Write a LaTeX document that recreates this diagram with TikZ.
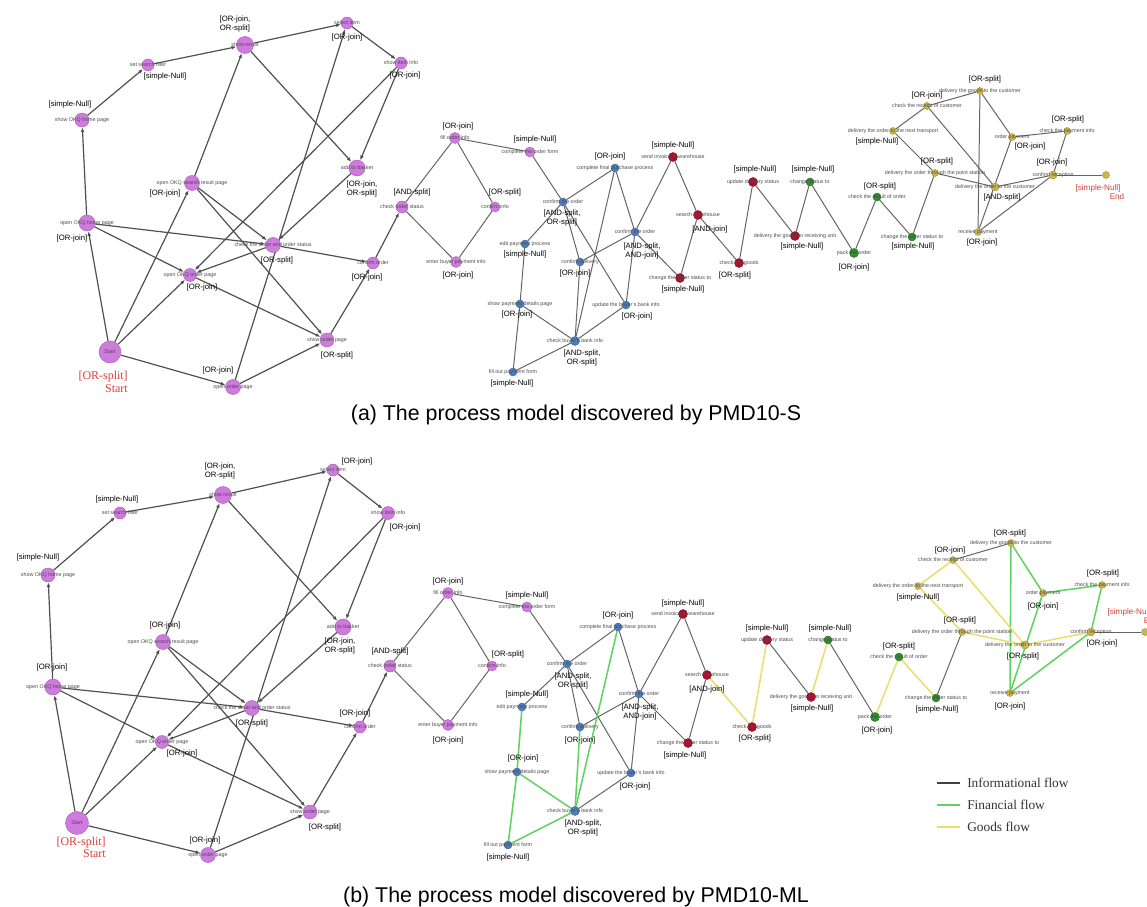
\documentclass[tikz,border=0pt]{standalone}
\usepackage{fontspec}
\setmainfont{Liberation Sans}
\newfontfamily\serifface{Liberation Serif}
\usetikzlibrary{arrows.meta}
\pgfdeclarelayer{bgzero}
\pgfdeclarelayer{bg}
\pgfsetlayers{bgzero,bg,main}
\definecolor{cpu}{RGB}{206,122,222}
\definecolor{cbl}{RGB}{78,124,192}
\definecolor{crd}{RGB}{168,18,46}
\definecolor{cgn}{RGB}{46,142,48}
\definecolor{cyl}{RGB}{202,182,76}
\definecolor{cgr}{RGB}{100,100,100}
\definecolor{cge}{RGB}{96,212,96}
\definecolor{cye}{RGB}{236,222,110}
\definecolor{cred}{RGB}{222,60,60}
\tikzset{
  nbase/.style={circle, inner sep=0pt, line width=0.3pt, fill=#1, draw=#1!80!black},
  npu/.style={nbase=cpu},
  nbl/.style={nbase=cbl},
  nrd/.style={nbase=crd},
  ngr/.style={nbase=cgn},
  nyl/.style={nbase=cyl},
  ds/.style={font=\fontsize{3.8}{4.2}\selectfont, text=black!70, inner sep=0pt},
  tg/.style={font=\fontsize{5.5}{6.2}\selectfont, align=center, inner sep=0pt, text=black},
  st/.style={font=\serifface\fontsize{8.5}{9}\selectfont, text=cred, inner sep=0pt},
  et/.style={font=\fontsize{5.8}{6.2}\selectfont, text=cred, inner sep=0pt},
  ed/.style={draw=cgr, line width=0.7pt},
  eda/.style={draw=cgr!80!black, line width=0.85pt, -{Latex[length=3.5pt,width=2.6pt]}},
  edg/.style={draw=cge, line width=1.1pt},
  edy/.style={draw=cye, line width=1.1pt},
  captxt/.style={font=\fontsize{15.2}{18}\selectfont, inner sep=0pt},
  lgt/.style={font=\serifface\fontsize{9.5}{11}\selectfont, inner sep=0pt, text=black!80},
}
\newcommand\nd[8]{%
  \node[#4, minimum size=#5mm] (#1) at (#2,#3) {};
  \node[ds] (#1d) at (#2,#3) {#6};
  \node[tg] (#1t) at #7 {#8};}
\begin{document}
\begin{tikzpicture}[x=0.025cm, y=-0.025cm]
\begin{pgfonlayer}{bgzero}
\fill[white] (0,0) rectangle (1147,907);
\end{pgfonlayer}
\useasboundingbox (0,0) rectangle (1147,907);

% ================= panel (a) =================
\node[npu, minimum size=5.5mm] (aS) at (110,352) {};
\node[ds] (aSd) at (aS) {Start};
\node[st, anchor=east] (aSt1) at (128,377) {[OR-split]};
\node[st, anchor=east] (aSt2) at (128,389) {Start};
\nd{aA2}{87}{223}{npu}{4}{open OKQ home page}{(72,238)}{[OR-join]}
\nd{aA3}{82}{120}{npu}{3.5}{show OKQ home page}{(70,105)}{[simple-Null]}
\nd{aA4}{148}{65}{npu}{3}{set search filter}{(165,77)}{[simple-Null]}
\nd{aA5}{245}{45}{npu}{4.25}{show result}{(235,24)}{[OR-join,\\OR-split]}
\nd{aA6}{347}{23}{npu}{3}{select item}{(347,38)}{[OR-join]}
\nd{aA7}{401}{63}{npu}{3}{show item info}{(405,76)}{[OR-join]}
\nd{aA8}{357}{168}{npu}{4}{add to basket}{(362,189)}{[OR-join,\\OR-split]}
\nd{aA9}{192}{183}{npu}{3.75}{open OKQ search result page}{(165,194)}{[OR-join]}
\nd{aA10}{273}{245}{npu}{3.75}{check the order and order status}{(277,260)}{[OR-split]}
\nd{aA11}{190}{275}{npu}{3.25}{open OKQ order page}{(202,288)}{[OR-join]}
\nd{aA12}{373}{263}{npu}{3}{confirm order}{(367,278)}{[OR-join]}
\nd{aA13}{327}{340}{npu}{3.5}{show order page}{(337,355)}{[OR-split]}
\nd{aA14}{233}{387}{npu}{3.75}{open order page}{(218,370)}{[OR-join]}
\nd{aA15}{402}{207}{npu}{3}{check order status}{(412,193)}{[AND-split]}
\nd{aM1}{455}{138}{npu}{2.75}{fill order info}{(458,127)}{[OR-join]}
\nd{aM2}{530}{152}{npu}{2.5}{complete the order form}{(535,140)}{[simple-Null]}
\nd{aM3}{495}{207}{npu}{2.5}{confirm info}{(505,193)}{[OR-split]}
\nd{aM4}{456}{262}{npu}{2.75}{enter buyer payment info}{(458,275)}{[OR-join]}
\nd{aB1}{563}{202}{nbl}{2}{confirm the order}{(562,218)}{[AND-split,\\OR-split]}
\nd{aB2}{615}{168}{nbl}{2}{complete final purchase process}{(610,157)}{[OR-join]}
\nd{aB3}{525}{244}{nbl}{2}{edit payment process}{(525,255)}{[simple-Null]}
\nd{aB4}{580}{262}{nbl}{2}{confirm delivery}{(575,274)}{[OR-join]}
\nd{aB5}{635}{232}{nbl}{2}{confirm the order}{(642,251)}{[AND-split,\\AND-join]}
\nd{aB6}{520}{304}{nbl}{2}{show payment details page}{(517,315)}{[OR-join]}
\nd{aB7}{626}{305}{nbl}{2}{update the buyer's bank info}{(637,317)}{[OR-join]}
\nd{aB8}{575}{341}{nbl}{2.25}{check buyer's bank info}{(582,358)}{[AND-split,\\OR-split]}
\nd{aB9}{513}{372}{nbl}{2}{fill out payment form}{(512,383)}{[simple-Null]}
\nd{aR1}{673}{157}{nrd}{2.25}{send invoice to warehouse}{(673,146)}{[simple-Null]}
\nd{aR2}{698}{215}{nrd}{2.25}{search warehouse}{(710,229)}{[AND-join]}
\nd{aR3}{739}{263}{nrd}{2.25}{check the goods}{(735,275)}{[OR-split]}
\nd{aR4}{680}{278}{nrd}{2.25}{change the order status to}{(683,289)}{[simple-Null]}
\nd{aR5}{753}{182}{nrd}{2.25}{update delivery status}{(755,170)}{[simple-Null]}
\nd{aR6}{795}{236}{nrd}{2.25}{delivery the goods to receiving unit}{(802,247)}{[simple-Null]}
\nd{aG1}{810}{182}{ngr}{2}{change status to}{(813,170)}{[simple-Null]}
\nd{aG2}{854}{253}{ngr}{2.25}{pack the order}{(854,267)}{[OR-join]}
\nd{aG3}{877}{197}{ngr}{2}{check the result of order}{(880,187)}{[OR-split]}
\nd{aG4}{912}{237}{ngr}{2}{change the order status to}{(913,247)}{[simple-Null]}
\nd{aY1}{935}{173}{nyl}{1.75}{delivery the order through the point station}{(937,162)}{[OR-split]}
\nd{aY2}{893}{131}{nyl}{1.75}{delivery the order to the next transport}{(877,142)}{[simple-Null]}
\nd{aY3}{927}{106}{nyl}{1.75}{check the receipt of customer}{(927,96)}{[OR-join]}
\nd{aY4}{980}{91}{nyl}{1.75}{delivery the goods to the customer}{(985,80)}{[OR-split]}
\nd{aY5}{1012}{137}{nyl}{1.75}{order payment}{(1030,147)}{[OR-join]}
\nd{aY6}{1067}{131}{nyl}{1.75}{check the payment info}{(1068,120)}{[OR-split]}
\nd{aY7}{995}{187}{nyl}{2}{delivery the order to the customer}{(1002,198)}{[AND-split]}
\nd{aY8}{1053}{175}{nyl}{2}{confirm reception}{(1052,163)}{[OR-join]}
\nd{aY9}{1106}{175}{nyl}{1.75}{}{(1106,175)}{}
\node[et] (aY9t1) at (1098,188) {[simple-Null]};
\node[et] (aY9t2) at (1117,197) {End};
\nd{aY10}{978}{232}{nyl}{1.75}{receive payment}{(982,243)}{[OR-join]}

\begin{pgfonlayer}{bg}
\foreach \s/\t in {aS/aA2, aS/aA9, aS/aA11, aS/aA14, aA2/aA3, aA3/aA4, aA4/aA5, aA9/aA5,
  aA5/aA6, aA6/aA7, aA7/aA8, aA5/aA8, aA8/aA10, aA2/aA10, aA2/aA11, aA11/aA13, aA9/aA10,
  aA9/aA13, aA10/aA11, aA10/aA12, aA12/aA15, aA13/aA12, aA14/aA13, aA7/aA11, aA14/aA6}
  \draw[eda] (\s) -- (\t);
\foreach \s/\t in {aA15/aM1, aA15/aM4, aM1/aM3, aM3/aM4, aM1/aM2, aM2/aB1, aB1/aB2, aB1/aB3,
  aB1/aB4, aB1/aB7, aB2/aB5, aB2/aB8, aB4/aB8, aB5/aB4, aB5/aB7, aB3/aB6, aB6/aB9, aB6/aB8,
  aB9/aB8, aB7/aB8, aB5/aR1, aB5/aR4, aR1/aR2, aR2/aR4, aR2/aR3, aR3/aR5, aR5/aR6, aR6/aG1,
  aG1/aG2, aG2/aG3, aG3/aG4, aG4/aY1, aY1/aY7, aY2/aY1, aY2/aY3, aY3/aY7, aY3/aY4, aY4/aY10,
  aY4/aY5, aY5/aY6, aY5/aY10, aY6/aY8, aY7/aY8, aY10/aY8, aY8/aY9}
  \draw[ed] (\s) -- (\t);
\end{pgfonlayer}

\node[captxt, anchor=base] (capa) at (576,420) {(a) The process model discovered by PMD10-S};

% ================= panel (b) =================
\node[npu, minimum size=5.75mm] (bS) at (77,823) {};
\node[ds] (bSd) at (bS) {Start};
\node[st, anchor=east] (bSt1) at (106,843) {[OR-split]};
\node[st, anchor=east] (bSt2) at (106,854) {Start};
\nd{bA2}{53}{687}{npu}{4}{open OKQ home page}{(52,667)}{[OR-join]}
\nd{bA3}{48}{575}{npu}{3.5}{show OKQ home page}{(38,557)}{[simple-Null]}
\nd{bA4}{120}{513}{npu}{3}{set search filter}{(117,499)}{[simple-Null]}
\nd{bA5}{223}{495}{npu}{4.25}{show result}{(220,471)}{[OR-join,\\OR-split]}
\nd{bA6}{333}{470}{npu}{3}{select item}{(357,461)}{[OR-join]}
\nd{bA7}{388}{513}{npu}{3.25}{show item info}{(405,527)}{[OR-join]}
\nd{bA8}{343}{627}{npu}{4}{add to basket}{(340,646)}{[OR-join,\\OR-split]}
\nd{bA9}{163}{642}{npu}{3.75}{open OKQ search result page}{(165,625)}{[OR-join]}
\nd{bA10}{252}{708}{npu}{3.75}{check the order and order status}{(252,723)}{[OR-split]}
\nd{bA11}{162}{742}{npu}{3.25}{open OKQ order page}{(182,753)}{[OR-join]}
\nd{bA12}{360}{727}{npu}{3}{confirm order}{(355,713)}{[OR-join]}
\nd{bA13}{310}{812}{npu}{3.5}{show order page}{(325,827)}{[OR-split]}
\nd{bA14}{208}{855}{npu}{3.75}{open order page}{(205,840)}{[OR-join]}
\nd{bA15}{390}{666}{npu}{3}{check order status}{(390,651)}{[AND-split]}
\nd{bM1}{448}{593}{npu}{2.75}{fill order info}{(448,581)}{[OR-join]}
\nd{bM2}{527}{607}{npu}{2.5}{complete the order form}{(527,595)}{[simple-Null]}
\nd{bM3}{492}{666}{npu}{2.5}{confirm info}{(508,654)}{[OR-split]}
\nd{bM4}{448}{725}{npu}{2.75}{enter buyer payment info}{(448,740)}{[OR-join]}
\nd{bB1}{567}{664}{nbl}{2}{confirm the order}{(573,681)}{[AND-split,\\OR-split]}
\nd{bB2}{618}{627}{nbl}{2}{complete final purchase process}{(618,615)}{[OR-join]}
\nd{bB3}{522}{707}{nbl}{2}{edit payment process}{(527,694)}{[simple-Null]}
\nd{bB4}{580}{727}{nbl}{2}{confirm delivery}{(580,740)}{[OR-join]}
\nd{bB5}{639}{694}{nbl}{2}{confirm the order}{(640,712)}{[AND-split,\\AND-join]}
\nd{bB6}{517}{772}{nbl}{2}{show payment details page}{(523,758)}{[OR-join]}
\nd{bB7}{631}{773}{nbl}{2}{update the buyer's bank info}{(635,786)}{[OR-join]}
\nd{bB8}{575}{811}{nbl}{2.25}{check buyer's bank info}{(583,828)}{[AND-split,\\OR-split]}
\nd{bB9}{508}{845}{nbl}{2}{fill out payment form}{(508,857)}{[simple-Null]}
\nd{bR1}{683}{614}{nrd}{2.25}{send invoice to warehouse}{(683,603)}{[simple-Null]}
\nd{bR2}{707}{675}{nrd}{2.25}{search warehouse}{(707,689)}{[AND-join]}
\nd{bR3}{752}{727}{nrd}{2.25}{check the goods}{(755,738)}{[OR-split]}
\nd{bR4}{688}{743}{nrd}{2.25}{change the order status to}{(685,755)}{[simple-Null]}
\nd{bR5}{767}{640}{nrd}{2.25}{update delivery status}{(767,628)}{[simple-Null]}
\nd{bR6}{811}{697}{nrd}{2.25}{delivery the goods to receiving unit}{(812,708)}{[simple-Null]}
\nd{bG1}{828}{640}{ngr}{2}{change status to}{(830,628)}{[simple-Null]}
\nd{bG2}{875}{717}{ngr}{2.25}{pack the order}{(877,730)}{[OR-join]}
\nd{bG3}{899}{657}{ngr}{2}{check the result of order}{(899,646)}{[OR-split]}
\nd{bG4}{936}{698}{ngr}{2}{change the order status to}{(937,709)}{[simple-Null]}
\nd{bY1}{962}{632}{nyl}{1.75}{delivery the order through the point station}{(960,620)}{[OR-split]}
\nd{bY2}{918}{586}{nyl}{1.75}{delivery the order to the next transport}{(918,597)}{[simple-Null]}
\nd{bY3}{953}{560}{nyl}{1.75}{check the receipt of customer}{(950,550)}{[OR-join]}
\nd{bY4}{1011}{543}{nyl}{1.75}{delivery the goods to the customer}{(1010,533)}{[OR-split]}
\nd{bY5}{1043}{593}{nyl}{1.75}{order payment}{(1043,606)}{[OR-join]}
\nd{bY6}{1102}{585}{nyl}{1.75}{check the payment info}{(1103,573)}{[OR-split]}
\nd{bY7}{1025}{645}{nyl}{2}{delivery the order to the customer}{(1023,656)}{[OR-split]}
\nd{bY8}{1091}{632}{nyl}{2}{confirm reception}{(1102,643)}{[OR-join]}
\nd{bY9}{1145}{632}{nyl}{1.75}{}{(1145,632)}{}
\node[et] (bY9t1) at (1130,612) {[simple-Null]};
\node[et] (bY9t2) at (1151,621) {End};
\nd{bY10}{1010}{693}{nyl}{1.75}{receive payment}{(1010,706)}{[OR-join]}

\begin{pgfonlayer}{bg}
\foreach \s/\t in {bS/bA2, bS/bA9, bS/bA11, bS/bA14, bA2/bA3, bA3/bA4, bA4/bA5, bA9/bA5,
  bA5/bA6, bA6/bA7, bA7/bA8, bA5/bA8, bA8/bA10, bA2/bA10, bA2/bA11, bA11/bA13, bA9/bA10,
  bA9/bA13, bA10/bA11, bA10/bA12, bA12/bA15, bA13/bA12, bA14/bA13, bA7/bA11, bA14/bA6}
  \draw[eda] (\s) -- (\t);
\foreach \s/\t in {bA15/bM1, bA15/bM4, bM1/bM3, bM3/bM4, bM1/bM2, bM2/bB1, bB1/bB2, bB1/bB3,
  bB1/bB4, bB1/bB7, bB2/bB5, bB5/bB4, bB5/bB7, bB7/bB8, bB5/bR1, bB5/bR4, bR1/bR2, bR2/bR4,
  bR5/bR6, bG1/bG2, bG4/bY1, bY3/bY4, bY8/bY9}
  \draw[ed] (\s) -- (\t);
\foreach \s/\t in {bB2/bB8, bB4/bB8, bB3/bB6, bB6/bB9, bB6/bB8, bB9/bB8, bY4/bY10, bY4/bY5,
  bY5/bY6, bY5/bY10, bY6/bY8, bY10/bY8}
  \draw[edg] (\s) -- (\t);
\foreach \s/\t in {bR2/bR3, bR3/bR5, bR6/bG1, bG2/bG3, bG3/bG4, bY1/bY7, bY2/bY1, bY2/bY3,
  bY3/bY7, bY7/bY8}
  \draw[edy] (\s) -- (\t);
\end{pgfonlayer}

% legend
\coordinate (lg1a) at (937,783); \coordinate (lg1b) at (960,783);
\coordinate (lg2a) at (937,805); \coordinate (lg2b) at (960,805);
\coordinate (lg3a) at (937,827); \coordinate (lg3b) at (960,827);
\draw[draw=black!75, line width=1.2pt] (lg1a) -- (lg1b);
\draw[draw=cge, line width=1.1pt] (lg2a) -- (lg2b);
\draw[draw=cye, line width=1.1pt] (lg3a) -- (lg3b);
\node[lgt, anchor=west] (lgt1) at (967,783) {Informational flow};
\node[lgt, anchor=west] (lgt2) at (967,805) {Financial flow};
\node[lgt, anchor=west] (lgt3) at (967,827) {Goods flow};

\node[captxt, anchor=base] (capb) at (576,902) {(b) The process model discovered by PMD10-ML};
\end{tikzpicture}
\end{document}
